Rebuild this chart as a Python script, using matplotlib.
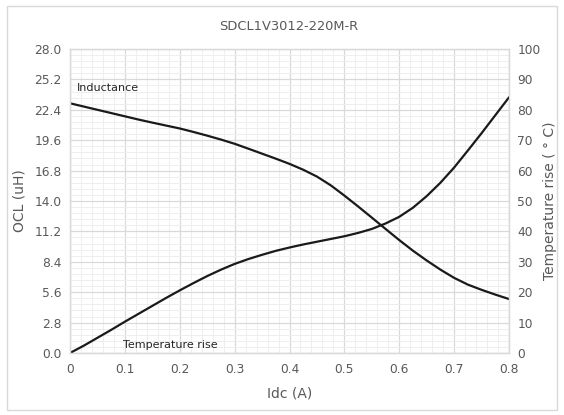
import matplotlib
matplotlib.use("Agg")
import matplotlib.pyplot as plt
from matplotlib.ticker import AutoMinorLocator
from matplotlib.patches import Rectangle

# values
idc = [0.0, 0.025, 0.05, 0.075, 0.1, 0.125, 0.15, 0.175, 0.2, 0.225,
       0.25, 0.275, 0.3, 0.325, 0.35, 0.375, 0.4, 0.425, 0.45, 0.475,
       0.5, 0.525, 0.55, 0.575, 0.6, 0.625, 0.65, 0.675, 0.7, 0.725,
       0.75, 0.775, 0.8]
inductance = [23.0, 22.7, 22.4, 22.1, 21.8, 21.5, 21.22, 20.95, 20.68, 20.36,
              20.02, 19.66, 19.27, 18.82, 18.36, 17.9, 17.42, 16.88, 16.25, 15.45,
              14.5, 13.5, 12.47, 11.43, 10.4, 9.42, 8.52, 7.68, 6.92, 6.3,
              5.82, 5.38, 4.97]
temp_rise = [0.0, 2.4, 5.0, 7.6, 10.3, 12.9, 15.5, 18.1, 20.6, 23.0,
             25.3, 27.4, 29.3, 30.9, 32.3, 33.6, 34.7, 35.7, 36.6, 37.5,
             38.4, 39.5, 40.8, 42.6, 44.8, 47.8, 51.6, 56.0, 61.0, 66.6,
             72.3, 78.2, 84.1]

ocl_ticks = [0.0, 2.8, 5.6, 8.4, 11.2, 14.0, 16.8, 19.6, 22.4, 25.2, 28.0]
temp_ticks = [0, 10, 20, 30, 40, 50, 60, 70, 80, 90, 100]
x_ticks = [0, 0.1, 0.2, 0.3, 0.4, 0.5, 0.6, 0.7, 0.8]
x_labels = ["0", "0.1", "0.2", "0.3", "0.4", "0.5", "0.6", "0.7", "0.8"]

TXT = "#595959"
LINE = "#1a1a1a"

fig = plt.figure(figsize=(5.64, 4.15), dpi=100)
fig.patches.append(Rectangle((7 / 564, 5 / 415), 550 / 564, 404 / 415,
                             transform=fig.transFigure, fill=False,
                             edgecolor="#d9d9d9", linewidth=1))

ax = fig.add_axes([70 / 564, 1 - 353 / 415, 439 / 564, 304 / 415])
ax2 = ax.twinx()

ax.set_xlim(0, 0.8)
ax.set_ylim(0, 28)
ax2.set_ylim(0, 100)

ax.set_xticks(x_ticks)
ax.set_xticklabels(x_labels)
ax.set_yticks(ocl_ticks)
ax.set_yticklabels([f"{v:.1f}" for v in ocl_ticks])
ax2.set_yticks(temp_ticks)
ax.xaxis.set_minor_locator(AutoMinorLocator(5))
ax.yaxis.set_minor_locator(AutoMinorLocator(5))

ax.grid(which="major", color="#d9d9d9", linewidth=0.9)
ax.grid(which="minor", color="#eeeeee", linewidth=0.7)
ax.set_axisbelow(True)

for a in (ax, ax2):
    for s in a.spines.values():
        s.set_color("#d9d9d9")
        s.set_linewidth(0.9)
    a.tick_params(which="both", length=0, colors=TXT, labelsize=8.8)
ax.tick_params(axis="x", pad=7)
ax.tick_params(axis="y", pad=6)
ax2.tick_params(axis="y", pad=6)

ax.plot(idc, inductance, color=LINE, linewidth=1.6, solid_capstyle="round")
ax2.plot(idc, temp_rise, color=LINE, linewidth=1.6, solid_capstyle="round")

ax.text(0.012, 24.4, "Inductance", fontsize=8, color="#262626", va="center")
ax.text(0.097, 0.7, "Temperature rise", fontsize=8, color="#262626", va="center")

ax.set_xlabel("Idc (A)", fontsize=10, color=TXT, labelpad=8)
ax.set_ylabel("OCL (uH)", fontsize=10, color=TXT, labelpad=6)
ax2.set_ylabel("Temperature rise ( ° C)", fontsize=10, color=TXT, labelpad=2)

fig.text(289 / 564, 1 - 26 / 415, "SDCL1V3012-220M-R", fontsize=9.4,
         color=TXT, ha="center", va="center")

fig.savefig("out.png", dpi=100)
